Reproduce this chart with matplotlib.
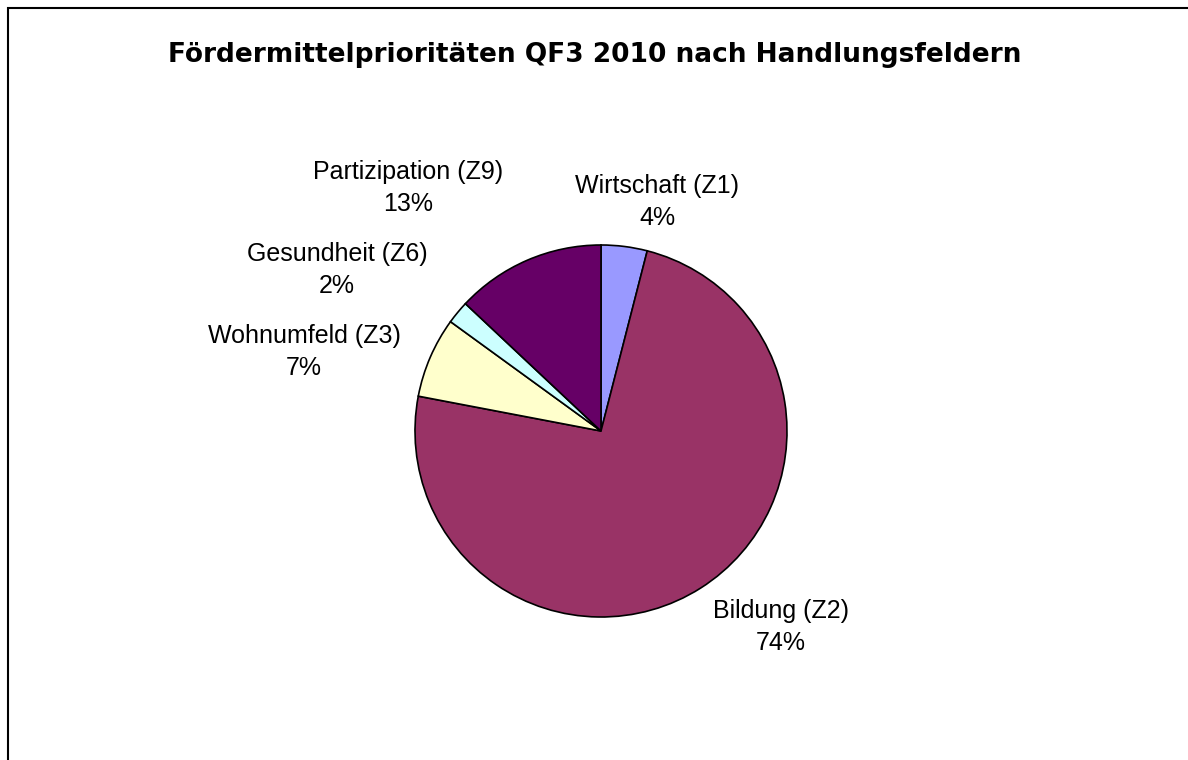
import matplotlib
matplotlib.use("Agg")
import matplotlib.pyplot as plt
from matplotlib.patches import Rectangle

title = "Fördermittelprioritäten QF3 2010 nach Handlungsfeldern"
categories = ["Wirtschaft (Z1)", "Bildung (Z2)", "Wohnumfeld (Z3)", "Gesundheit (Z6)", "Partizipation (Z9)"]
values = [4, 74, 7, 2, 13]
colors = ["#9999FF", "#993366", "#FFFFCC", "#CCFFFF", "#660066"]

plt.rcParams['font.family'] = ['Liberation Sans', 'DejaVu Sans']

W, H = 1188, 760
fig = plt.figure(figsize=(W / 100, H / 100), dpi=100)
fig.patches.append(Rectangle((8 / W, -0.1), 1.2, 1 - 8 / H + 0.1, transform=fig.transFigure,
                             fill=False, edgecolor='black', linewidth=1.5))

cx, cy, r = 601, 431, 186
ax = fig.add_axes([(cx - r) / W, (H - cy - r) / H, 2 * r / W, 2 * r / H])
wedges, texts = ax.pie(values, colors=colors, startangle=90, counterclock=False,
                       labels=[f"{c}\n{v}%" for c, v in zip(categories, values)],
                       wedgeprops=dict(edgecolor='black', linewidth=1.2),
                       textprops=dict(fontsize=18, ha='center', va='center', linespacing=1.45))
ax.set_xlim(-1, 1)
ax.set_ylim(-1, 1)
ax.set_aspect('equal')

# label centres in pixel coordinates of the reference
label_px = [(657, 202), (781, 627), (304, 352), (337, 270), (408, 188)]
for t, (px, py) in zip(texts, label_px):
    t.set_position(((px - cx) / r, (cy - py) / r))
    t.set_ha('center')
    t.set_va('center')

fig.text(595 / W, 1 - 55 / H, title, ha='center', va='center', fontsize=19,
         fontweight='bold', family=['DejaVu Sans'])

fig.savefig("out.png", dpi=100)
